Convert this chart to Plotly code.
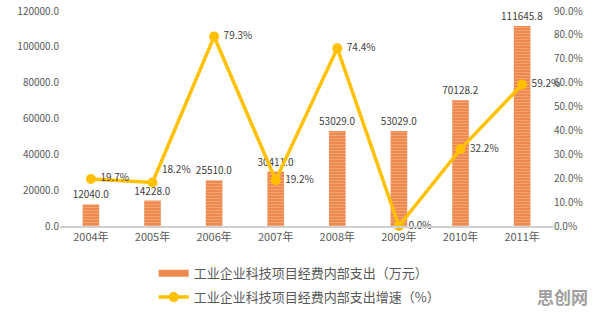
import plotly.graph_objects as go

years = ["2004年", "2005年", "2006年", "2007年", "2008年", "2009年", "2010年", "2011年"]
spend = [12040.0, 14228.0, 25510.0, 30411.0, 53029.0, 53029.0, 70128.2, 111645.8]
growth = [19.7, 18.2, 79.3, 19.2, 74.4, 0.0, 32.2, 59.2]
growth_pos = ["middle right", "top right", "middle right", "middle right",
              "middle right", "middle right", "middle right", "middle right"]

name_bar = "工业企业科技项目经费内部支出（万元）"
name_line = "工业企业科技项目经费内部支出增速（%）"

font_family = "Noto Sans CJK SC, Noto Sans, sans-serif"
txt_col = "#595959"
lbl_col = "#404040"
bar_col = "#EE8A4F"
line_col = "#FFC000"

fig = go.Figure()
fig.add_trace(go.Bar(
    x=years, y=spend, name=name_bar, showlegend=False,
    marker=dict(color=bar_col, line=dict(width=0),
                pattern=dict(shape="-", fgcolor="#F7BE98", bgcolor=bar_col,
                             size=3, solidity=0.35)),
    width=0.27,
    text=[f"{v:.1f}" for v in spend], textposition="outside",
    constraintext="none",
    textfont=dict(size=10, color=lbl_col), cliponaxis=False,
))
# legend swatch for the bar series
fig.add_trace(go.Scatter(
    x=[None], y=[None], name=name_bar, mode="lines",
    line=dict(color=bar_col, width=7), legendgroup="a",
))
fig.add_trace(go.Scatter(
    x=years, y=growth, name=name_line, yaxis="y2", mode="lines+markers+text",
    line=dict(color=line_col, width=3.5),
    marker=dict(color=line_col, size=10),
    text=[f"\u00a0{v:.1f}%" for v in growth], textposition=growth_pos,
    textfont=dict(size=10, color=lbl_col), cliponaxis=False,
    legendgroup="b",
))

fig.update_layout(
    width=596, height=316,
    margin=dict(l=60, r=43, t=11, b=90, autoexpand=False),
    paper_bgcolor="white", plot_bgcolor="white",
    font=dict(family=font_family, size=10, color=txt_col),
    showlegend=True,
    legend=dict(x=0.19, y=-0.15, xanchor="left", yanchor="top",
                orientation="v", font=dict(size=13, color=txt_col),
                traceorder="grouped", tracegroupgap=4, itemwidth=30),
    xaxis=dict(showline=True, linecolor="#D0D0D0", linewidth=2,
               tickfont=dict(size=11, color=txt_col), ticks="",
               showgrid=False, automargin=False),
    yaxis=dict(range=[0, 120000], dtick=20000, tickformat=".1f",
               showgrid=False, zeroline=False, ticks="", automargin=False,
               tickfont=dict(size=10, color=txt_col)),
    yaxis2=dict(range=[0, 90], dtick=10, overlaying="y", side="right",
                showgrid=False, zeroline=False, ticks="", automargin=False,
                ticksuffix="%", tickformat=".1f",
                tickfont=dict(size=10, color=txt_col)),
    bargap=0.7,
)
fig.add_annotation(text="<b>思创网</b>", xref="paper", yref="paper",
                   x=1.075, y=-0.33, xanchor="right", yanchor="middle",
                   showarrow=False,
                   font=dict(size=17, color="#A0A0A0", family=font_family))

fig.write_html("out.html")
